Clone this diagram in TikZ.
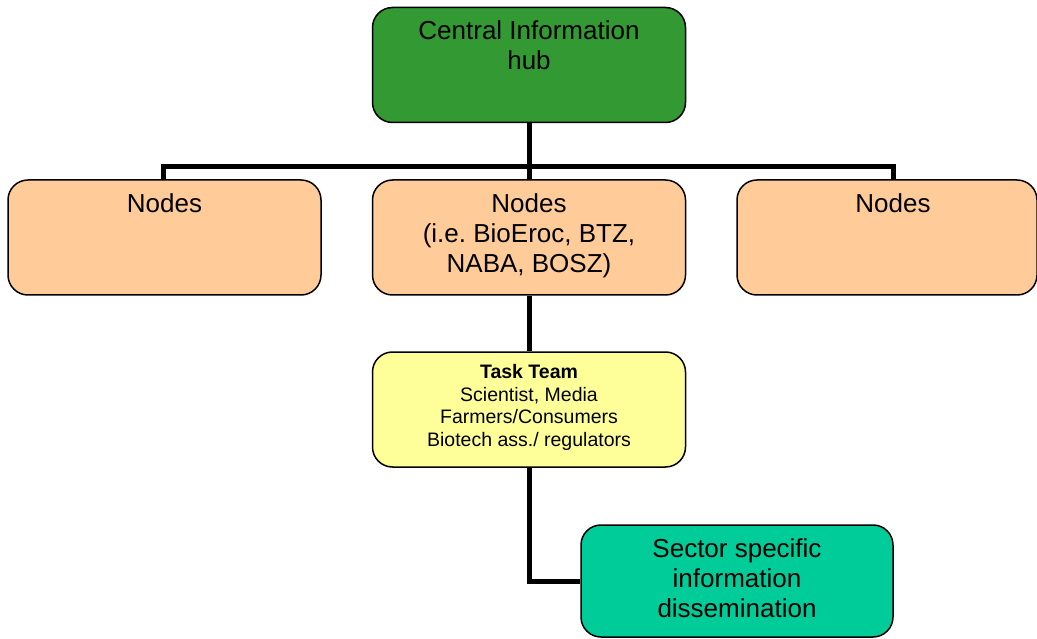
\documentclass[tikz,border=0pt]{standalone}
\usepackage{fontspec}
\setmainfont{Liberation Sans}
\frenchspacing
\definecolor{hubgreen}{HTML}{339933}
\definecolor{peach}{HTML}{FFCC99}
\definecolor{paleyellow}{HTML}{FFFF99}
\definecolor{teal}{HTML}{00CC99}
\tikzset{
  box/.style={draw=black, line width=1.5pt, rounded corners=20pt, inner sep=0pt,
    minimum width=313pt, minimum height=115pt},
  bigtext/.style={anchor=north, inner sep=0pt, align=center, font=\fontsize{26}{30}\selectfont},
  smalltext/.style={anchor=north, inner sep=0pt, align=center, font=\fontsize{19.5}{22.7}\selectfont},
  conn/.style={line width=5pt, draw=black}
}
\begin{document}
\begin{tikzpicture}[x=1pt, y=-1pt]
  \useasboundingbox (0,0) rectangle (1037,639);
  % boxes
  \node[box, fill=hubgreen] (hub) at (529,65) {};
  \node[box, fill=peach] (nodeL) at (164.5,237.5) {};
  \node[box, fill=peach] (nodeM) at (529,237.5) {};
  \node[box, fill=peach, minimum width=300pt] (nodeR) at (887,237.5) {};
  \node[box, fill=paleyellow] (task) at (529,409.5) {};
  \node[box, fill=teal, minimum width=312pt, minimum height=112pt] (sector) at (737,581) {};
  % bus coordinates
  \coordinate (tl) at (163,167);
  \coordinate (tr) at (893,167);
  % connectors
  \draw[conn] (tl |- nodeL.north) -- (tl) -- (tr) -- (tr |- nodeR.north);
  \draw[conn] (hub.south) -- (nodeM.north);
  \draw[conn] (nodeM.south) -- (task.north);
  \draw[conn] (task.south) |- (sector.west);
  % texts
  \node[bigtext] (hubtxt) at (529,20) {Central Information\\hub};
  \node[bigtext] (ltxt) at (164.5,193) {Nodes};
  \node[bigtext] (mtxt) at (529,193) {Nodes\\(i.e. BioEroc, BTZ,\\NABA, BOSZ)};
  \node[bigtext] (rtxt) at (893,193) {Nodes};
  \node[smalltext] (ttxt) at (529,364) {\textbf{Task Team}\\Scientist, Media\\Farmers/Consumers\\Biotech ass./ regulators};
  \node[bigtext] (stxt) at (737,538) {Sector specific\\information\\dissemination};
\end{tikzpicture}
\end{document}
